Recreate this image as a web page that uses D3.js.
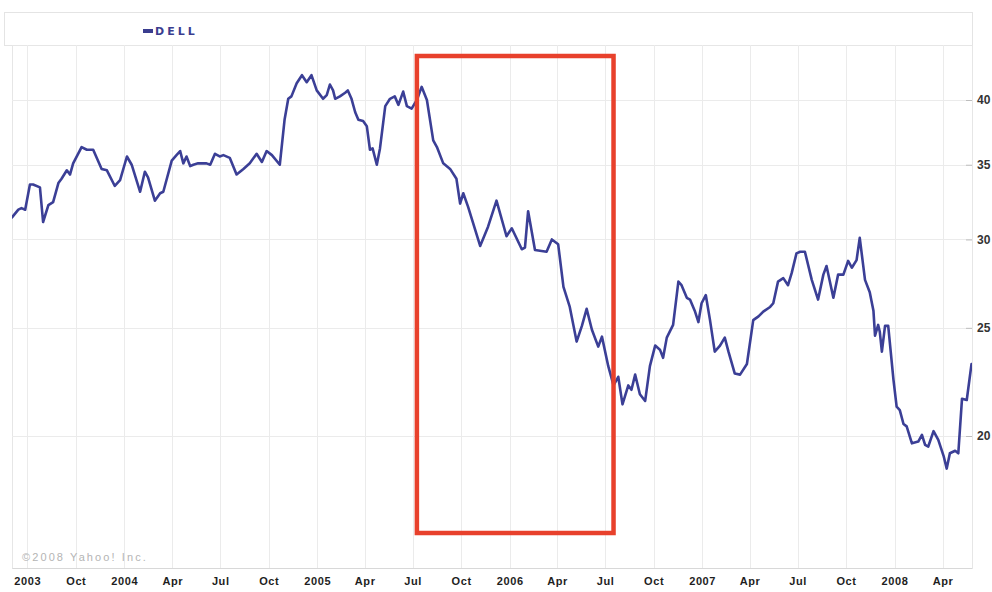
<!DOCTYPE html>
<html><head><meta charset="utf-8">
<script src="https://cdn.jsdelivr.net/npm/d3@7/dist/d3.min.js"></script>
<style>html,body{margin:0;padding:0;background:#fff;overflow:hidden}</style>
</head><body><svg id="c" width="992" height="592"></svg>
<script>
// ---- data (weekly closes, DELL, log price axis) ----
const dates = [
"2003-06-02","2003-06-14","2003-06-20","2003-06-27","2003-07-06","2003-07-12","2003-07-25","2003-07-31",
"2003-08-10","2003-08-19","2003-08-29","2003-09-04","2003-09-14","2003-09-20","2003-09-26","2003-10-12",
"2003-10-22","2003-11-03","2003-11-19","2003-11-29","2003-12-14","2003-12-24","2004-01-06","2004-01-15",
"2004-01-31","2004-02-09","2004-02-15","2004-02-28","2004-03-09","2004-03-15","2004-03-31","2004-04-09",
"2004-04-16","2004-04-22","2004-04-28","2004-05-05","2004-05-11","2004-05-20","2004-06-05","2004-06-12",
"2004-06-21","2004-06-30","2004-07-07","2004-07-19","2004-08-01","2004-08-14","2004-08-26","2004-09-08",
"2004-09-18","2004-09-27","2004-10-07","2004-10-22","2004-10-31","2004-11-07","2004-11-13","2004-11-23",
"2004-12-03","2004-12-12","2004-12-21","2004-12-31","2005-01-12","2005-01-19","2005-01-25","2005-01-31",
"2005-02-04","2005-02-13","2005-02-23","2005-02-28","2005-03-07","2005-03-14","2005-03-20","2005-03-29",
"2005-04-05","2005-04-11","2005-04-16","2005-04-24","2005-04-30","2005-05-10","2005-05-19","2005-05-28",
"2005-06-04","2005-06-13","2005-06-20","2005-06-29","2005-07-09","2005-07-18","2005-07-28","2005-08-09",
"2005-08-16","2005-08-28","2005-09-10","2005-09-22","2005-09-29","2005-10-05","2005-10-14","2005-11-06",
"2005-11-21","2005-12-07","2005-12-26","2006-01-05","2006-01-24","2006-01-30","2006-02-05","2006-02-18",
"2006-03-12","2006-03-22","2006-04-03","2006-04-13","2006-04-25","2006-05-08","2006-05-18","2006-05-27",
"2006-06-06","2006-06-18","2006-06-25","2006-07-07","2006-07-17","2006-07-26","2006-08-03","2006-08-14",
"2006-08-20","2006-08-27","2006-09-05","2006-09-15","2006-09-24","2006-10-04","2006-10-13","2006-10-19",
"2006-10-26","2006-11-07","2006-11-17","2006-11-23","2006-12-03","2006-12-09","2006-12-18","2006-12-25",
"2006-12-31","2007-01-08","2007-01-16","2007-01-25","2007-02-04","2007-02-13","2007-02-20","2007-03-04",
"2007-03-14","2007-03-27","2007-04-08","2007-04-18","2007-04-27","2007-05-10","2007-05-16","2007-05-25",
"2007-06-04","2007-06-13","2007-06-20","2007-06-29","2007-07-06","2007-07-15","2007-07-28","2007-08-09",
"2007-08-19","2007-08-25","2007-09-07","2007-09-16","2007-09-26","2007-10-05","2007-10-12","2007-10-21",
"2007-10-27","2007-11-06","2007-11-15","2007-11-22","2007-11-25","2007-12-01","2007-12-04","2007-12-08",
"2007-12-14","2007-12-20","2007-12-30","2008-01-05","2008-01-11","2008-01-18","2008-01-24","2008-02-03",
"2008-02-15","2008-02-22","2008-02-28","2008-03-05","2008-03-15","2008-03-24","2008-04-03","2008-04-09",
"2008-04-15","2008-04-25","2008-05-01","2008-05-08","2008-05-17","2008-05-26"
];
const prices = [
31.4,31.9,32.0,31.9,33.6,33.6,33.4,31.1,
32.2,32.4,33.7,34.0,34.6,34.3,35.1,36.3,
36.1,36.1,34.7,34.6,33.5,33.9,35.6,35.0,
33.1,34.5,34.1,32.5,33.0,33.1,35.3,35.7,
36.0,35.1,35.6,34.9,35.0,35.1,35.1,35.0,
35.8,35.6,35.7,35.5,34.3,34.7,35.1,35.8,
35.2,36.0,35.7,35.0,38.4,40.1,40.3,41.4,
42.1,41.5,42.1,40.8,40.1,40.4,41.3,40.8,
40.1,40.3,40.6,40.8,40.1,39.0,38.4,38.3,
37.9,36.1,36.2,35.0,36.2,39.5,40.1,40.3,
39.6,40.7,39.5,39.3,40.0,41.1,40.0,36.8,
36.3,35.1,34.7,34.0,32.3,33.0,32.1,29.6,
30.8,32.5,30.2,30.7,29.4,29.5,31.8,29.35,
29.25,30.0,29.7,27.2,26.1,24.3,25.1,26.0,
24.9,24.05,24.55,23.1,22.2,22.6,21.35,22.2,
22.0,22.7,21.8,21.5,23.1,24.1,23.9,23.5,
24.5,25.15,27.5,27.3,26.6,26.5,25.9,25.3,
26.3,26.75,25.4,23.8,24.1,24.5,23.8,22.75,
22.7,23.2,25.4,25.6,25.85,26.1,26.3,27.5,
27.7,27.3,28.0,29.15,29.25,29.25,27.6,26.5,
27.9,28.4,26.6,27.9,27.9,28.7,28.3,28.75,
30.1,27.6,26.9,25.9,24.6,25.15,24.8,23.8,
25.1,25.1,22.45,21.25,21.1,20.5,20.4,19.7,
19.77,20.05,19.64,19.57,20.2,19.84,19.2,18.7,
19.3,19.4,19.3,21.6,21.54,23.2
];
const yTicks = [20, 25, 30, 35, 40];
const xTickDates = ["2003-07-01","2003-10-01","2004-01-01","2004-04-01","2004-07-01","2004-10-01",
  "2005-01-01","2005-04-01","2005-07-01","2005-10-01","2006-01-01","2006-04-01","2006-07-01",
  "2006-10-01","2007-01-01","2007-04-01","2007-07-01","2007-10-01","2008-01-01","2008-04-01"];
const xTickLabels = ["2003","Oct","2004","Apr","Jul","Oct","2005","Apr","Jul","Oct","2006","Apr",
  "Jul","Oct","2007","Apr","Jul","Oct","2008","Apr"];
const highlight = ["2005-07-09", "2006-07-17"];
const seriesName = "DELL";
const credit = "\u00a92008 Yahoo! Inc.";

// ---- layout ----
const parse = d3.timeParse("%Y-%m-%d");
const P = {left: 12, right: 972, top: 45, bottom: 568, legendTop: 12};
const pts = dates.map((d, i) => ({date: parse(d), v: prices[i]}));
const x = d3.scaleTime().domain(d3.extent(pts, d => d.date)).range([P.left, 971.5]);
const y = d3.scaleLog().domain([20, 40]).range([436, 100]);

const svg = d3.select("#c");
svg.append("rect").attr("width", 992).attr("height", 592).attr("fill", "#fff");

// legend box + plot frame
svg.append("rect").attr("x", 4.5).attr("y", P.legendTop + 0.5)
  .attr("width", P.right - 4).attr("height", P.top - P.legendTop)
  .attr("fill", "none").attr("stroke", "#e4e4e4");
svg.append("rect").attr("x", P.left + 0.5).attr("y", P.top + 0.5)
  .attr("width", P.right - P.left).attr("height", P.bottom - P.top)
  .attr("fill", "none").attr("stroke", "#e6e6e6");

// vertical grid (quarters)
const xGrid = svg.append("g").attr("transform", `translate(0,${P.bottom})`)
  .call(d3.axisBottom(x).tickValues(xTickDates.map(parse)).tickSize(-(P.bottom - P.top)).tickFormat(""));
xGrid.select(".domain").remove();
xGrid.selectAll("line").attr("stroke", "#ebebeb").attr("shape-rendering", "crispEdges");

// horizontal grid
const yGrid = svg.append("g").attr("transform", `translate(${P.right},0)`)
  .call(d3.axisLeft(y).tickValues(yTicks).tickSize(P.right - P.left).tickFormat(""));
yGrid.select(".domain").remove();
yGrid.selectAll("line").attr("stroke", "#ebebeb").attr("shape-rendering", "crispEdges");

// small right tick marks
const yMarks = svg.append("g").attr("transform", `translate(${P.right},0)`)
  .call(d3.axisLeft(y).tickValues(yTicks).tickSize(6).tickFormat(""));
yMarks.select(".domain").remove();
yMarks.selectAll("line").attr("stroke", "#bdbdbd");

// right axis labels
const yAx = svg.append("g").attr("transform", `translate(${P.right},0)`)
  .call(d3.axisRight(y).tickValues(yTicks).tickSize(0).tickPadding(5).tickFormat(d3.format("d")));
yAx.select(".domain").remove();
yAx.selectAll("text").attr("font-family", "'Liberation Sans', Arial, sans-serif")
  .attr("font-weight", "bold").attr("font-size", 12).attr("fill", "#333");

// bottom axis labels
const xAx = svg.append("g").attr("transform", `translate(0,${P.bottom})`)
  .call(d3.axisBottom(x).tickValues(xTickDates.map(parse)).tickSize(0).tickPadding(9)
    .tickFormat((d, i) => xTickLabels[i]));
xAx.select(".domain").attr("stroke", "#d8d8d8");
xAx.selectAll("text").attr("font-family", "'Liberation Sans', Arial, sans-serif")
  .attr("font-weight", "bold").attr("font-size", 11).attr("letter-spacing", "0.6px").attr("fill", "#1e1e1e");

// credit
svg.append("text").attr("x", 22).attr("y", 561).text(credit)
  .attr("font-family", "'Liberation Sans', Arial, sans-serif").attr("font-size", 11)
  .attr("letter-spacing", "2.1px").attr("fill", "#b4b4b4");

// legend
svg.append("rect").attr("x", 143).attr("y", 29).attr("width", 10).attr("height", 4).attr("fill", "#3a3d8f");
svg.append("text").attr("x", 155).attr("y", 35).text(seriesName)
  .attr("font-family", "'DejaVu Sans', sans-serif").attr("font-weight", "bold").attr("font-size", 11)
  .attr("letter-spacing", "3px").attr("fill", "#3a3d8f");

// price line
svg.append("clipPath").attr("id", "plotclip").append("rect")
  .attr("x", P.left).attr("y", P.top).attr("width", P.right - P.left).attr("height", P.bottom - P.top);
svg.append("path").datum(pts).attr("clip-path", "url(#plotclip)")
  .attr("d", d3.line().x(d => x(d.date)).y(d => y(d.v)))
  .attr("fill", "none").attr("stroke", "#3b3f96").attr("stroke-width", 2.6)
  .attr("stroke-linejoin", "round").attr("stroke-linecap", "round");

// red highlight box
const hx0 = x(parse(highlight[0])), hx1 = x(parse(highlight[1]));
svg.append("rect").attr("x", hx0).attr("y", P.top + 11).attr("width", hx1 - hx0)
  .attr("height", 533 - (P.top + 11))
  .attr("fill", "none").attr("stroke", "#e8412c").attr("stroke-width", 4.5);
</script></body></html>
